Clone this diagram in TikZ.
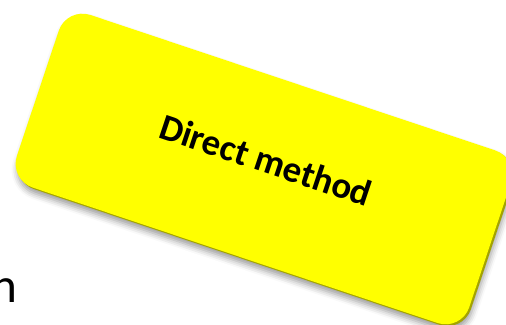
\documentclass[tikz,border=0pt]{standalone}
\usepackage{fontspec}
\setmainfont{Carlito}
\usepackage{tikz}
\usepackage{xcolor}
\usetikzlibrary{positioning,shadows,shadows.blur}
\definecolor{dmyellow}{HTML}{FFFF00}
\definecolor{dmrim}{HTML}{A3A300}
\definecolor{dmshade}{HTML}{5A5A5A}
\tikzset{
  methodBox/.style={rotate=-18.5, minimum width=9.54cm, minimum height=3.64cm, rounded corners=0.5cm,
    fill=dmyellow, inner sep=0pt,
    blur shadow={shadow xshift=0.04cm, shadow yshift=-0.12cm, shadow blur radius=0.12cm, shadow opacity=40},
    general shadow={fill=dmrim, shadow xshift=0.035cm, shadow yshift=-0.035cm}},
  methodLabel/.style={rotate=-18.5, font=\fontsize{21}{25}\selectfont\bfseries, inner sep=0pt},
  cutLabel/.style={font=\fontsize{28}{33}\selectfont, inner sep=0pt}
}
\begin{document}
\begin{tikzpicture}[x=1cm,y=1cm]
  \useasboundingbox (0,0) rectangle (10.12,6.5);
  \clip (0,0) rectangle (10.12,6.5);
  \node[methodBox] (box) at (5.28,3.12) {};
  \node[methodLabel] (label) at (5.32,3.30) {Direct method};
  \node[cutLabel, anchor=base east] (cut) at (0.36,0.44) {n};
\end{tikzpicture}
\end{document}
